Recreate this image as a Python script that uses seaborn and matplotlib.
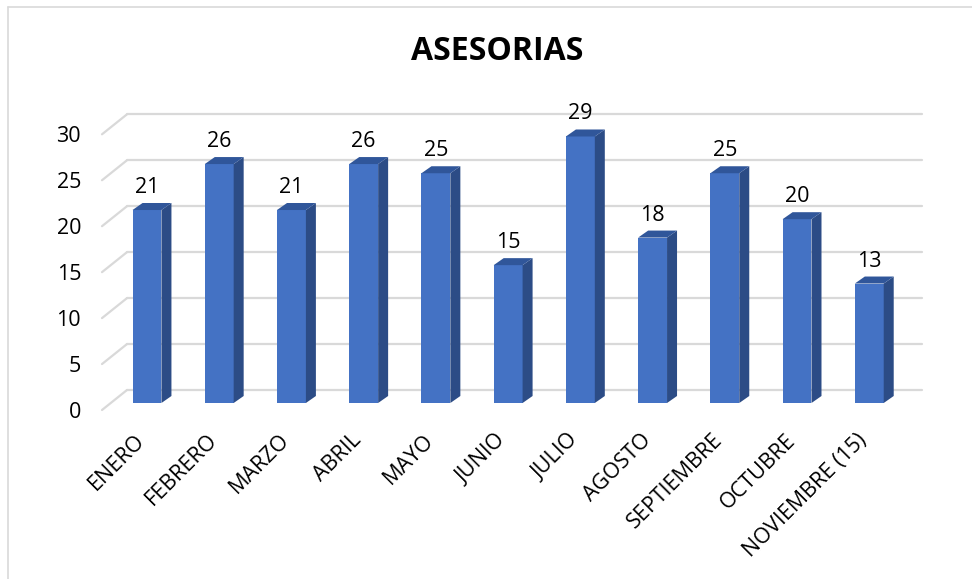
import numpy as np
import pandas as pd
import matplotlib
matplotlib.use("Agg")
import matplotlib.pyplot as plt
import seaborn as sns
from matplotlib.patches import Polygon
from matplotlib.lines import Line2D
from matplotlib.transforms import ScaledTranslation

# ---- data ----
months = ["ENERO", "FEBRERO", "MARZO", "ABRIL", "MAYO", "JUNIO", "JULIO",
          "AGOSTO", "SEPTIEMBRE", "OCTUBRE", "NOVIEMBRE (15)"]
asesorias = [21, 26, 21, 26, 25, 15, 29, 18, 25, 20, 13]
y_ticks = [0, 5, 10, 15, 20, 25, 30]
title = "ASESORIAS"

FRONT = "#4472C4"
SIDE = "#2C4C86"
TOP = "#30569A"
GRID = "#D9D9D9"
FS = 15.5

sns.set_theme(style="white")
plt.rcParams["font.family"] = ["Open Sans", "DejaVu Sans"]

W, H = 972, 579
fig = plt.figure(figsize=(W / 100, H / 100), dpi=100)
ax = fig.add_axes([102 / W, 1 - 420 / H, 820 / W, 320 / H])

df = pd.DataFrame({"mes": months, "n": asesorias})
sns.barplot(data=df, x="mes", y="n", color=FRONT, saturation=1, width=0.40,
            edgecolor="none", zorder=3, ax=ax)

ax.set_xlim(-0.623, 10.73)
ax.set_ylim(-1.85, 32.97)

# pixel size of one data unit
p0 = ax.transData.transform((0, 0))
p1 = ax.transData.transform((1, 1))
ppx, ppy = p1 - p0

# back wall gridlines with small perspective diagonal
front_off = -7 / ppy
back_off = 13 / ppy
x_diag0 = -0.623
x_back0 = x_diag0 + 25 / ppx
x_back1 = 10.73
for v in y_ticks:
    ax.add_line(Line2D([x_diag0, x_back0], [v + front_off, v + back_off],
                       color=GRID, lw=1.6, zorder=1, clip_on=False))
    ax.add_line(Line2D([x_back0, x_back1], [v + back_off, v + back_off],
                       color=GRID, lw=1.6, zorder=1, clip_on=False))

# depth faces of the bars
dx = 10 / ppx
dy = 7 / ppy
for bar in ax.patches[:len(asesorias)]:
    x0 = bar.get_x()
    x1 = x0 + bar.get_width()
    h = bar.get_height()
    side = Polygon([(x1, 0), (x1 + dx, dy), (x1 + dx, h + dy), (x1, h)],
                   closed=True, facecolor=SIDE, edgecolor="none", zorder=3)
    top = Polygon([(x0, h), (x0 + dx, h + dy), (x1 + dx, h + dy), (x1, h)],
                  closed=True, facecolor=TOP, edgecolor="none", zorder=3)
    ax.add_patch(side)
    ax.add_patch(top)
    ax.annotate(f"{h:.0f}", (x0 + bar.get_width() / 2, h), xytext=(0, 17),
                textcoords="offset pixels", ha="center", va="baseline",
                fontsize=FS, color="black")

# axes cosmetics
for s in ax.spines.values():
    s.set_visible(False)
ax.grid(False)
ax.set_xlabel("")
ax.set_ylabel("")
ax.set_yticks(y_ticks)
ax.set_yticklabels([str(t) for t in y_ticks], fontsize=FS, color="black")
ax.tick_params(axis="y", length=0, pad=15)
for lbl in ax.get_yticklabels():
    lbl.set_transform(lbl.get_transform() + ScaledTranslation(0, -5 / 72, fig.dpi_scale_trans))

ax.set_xticks(range(len(months)))
ax.set_xticklabels(months, rotation=45, ha="right", rotation_mode="anchor",
                   fontsize=FS, color="black")
ax.tick_params(axis="x", length=0, pad=7)
for lbl in ax.get_xticklabels():
    lbl.set_transform(lbl.get_transform() + ScaledTranslation(-9 / 72, 0, fig.dpi_scale_trans))

fig.text(497 / W, 1 - 52 / H, title, ha="center", va="center",
         fontsize=23, fontweight="bold", color="black")

# chart frame (only top and left edges visible in the crop)
fig.add_artist(Line2D([8 / W, 1], [1 - 7 / H, 1 - 7 / H], color="#D9D9D9", lw=1.2,
                      transform=fig.transFigure))
fig.add_artist(Line2D([8 / W, 8 / W], [0, 1 - 7 / H], color="#D9D9D9", lw=1.2,
                      transform=fig.transFigure))

fig.savefig("out.png", dpi=100)
plt.close()
